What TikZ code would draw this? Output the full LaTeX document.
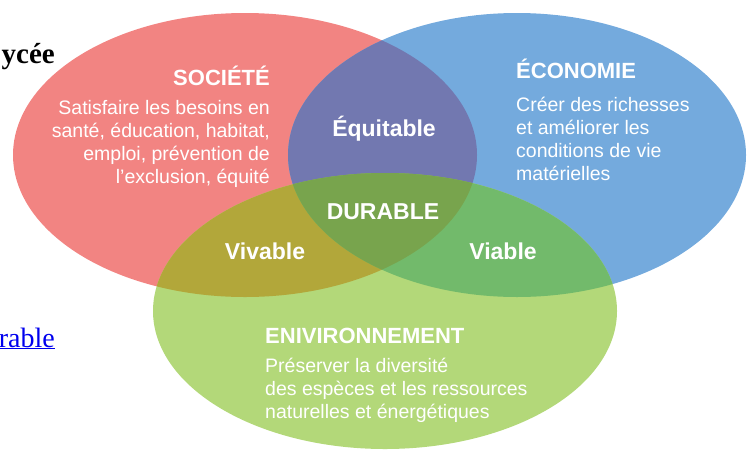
\documentclass[tikz,border=0pt]{standalone}
\usepackage{fontspec}
\setmainfont{Liberation Sans}
\newfontfamily\webserif{Liberation Serif}
\usetikzlibrary{positioning}
\definecolor{socred}{HTML}{F28482}
\definecolor{ecoblue}{HTML}{74AADD}
\definecolor{envgreen}{HTML}{B3D879}
\definecolor{socecocol}{HTML}{7278B0}
\definecolor{socenvcol}{HTML}{B2A73A}
\definecolor{ecoenvcol}{HTML}{72BA6B}
\definecolor{allcol}{HTML}{78A44D}
\definecolor{linkblue}{HTML}{0000EE}
% the three circles of the diagram
\newcommand{\socpath}{(245,155) ellipse [x radius=232pt, y radius=142pt]}
\newcommand{\ecopath}{(517,155) ellipse [x radius=229pt, y radius=142pt]}
\newcommand{\envpath}{(385,311) ellipse [x radius=232pt, y radius=138pt]}

\begin{document}
\begin{tikzpicture}[x=1pt,y=-1pt,
  title/.style={text=white,font=\fontsize{22}{26}\selectfont\bfseries,inner sep=0pt},
  body/.style={text=white,font=\fontsize{19.5}{23}\selectfont,inner sep=0pt},
  zone/.style={text=white,font=\fontsize{23}{27}\selectfont\bfseries,inner sep=0pt,anchor=base},
  webtext/.style={font=\webserif\fontsize{28}{30}\selectfont,inner sep=0pt,anchor=base east}
]
\useasboundingbox (0,0) rectangle (751,450);
\clip (0,0) rectangle (751,450);

% circles
\fill[socred] \socpath;
\fill[ecoblue] \ecopath;
\fill[envgreen] \envpath;

% overlaps
\begin{scope}
  \clip \socpath;
  \fill[socecocol] \ecopath;
\end{scope}
\begin{scope}
  \clip \socpath;
  \fill[socenvcol] \envpath;
\end{scope}
\begin{scope}
  \clip \ecopath;
  \fill[ecoenvcol] \envpath;
\end{scope}
\begin{scope}
  \clip \socpath;
  \clip \ecopath;
  \fill[allcol] \envpath;
\end{scope}

% Société (base = last line)
\node[title,anchor=base east] (soctitle) at (270,85) {SOCIÉTÉ};
\node[body,anchor=base east,align=right] (socbody) at (270,183) {Satisfaire les besoins en\\santé, éducation, habitat,\\emploi, prévention de\\l’exclusion, équité};

% Économie
\node[title,anchor=base west] (ecotitle) at (516,78) {ÉCONOMIE};
\node[body,anchor=base west,align=left] (ecobody) at (516,180) {Créer des richesses\\et améliorer les\\conditions de vie\\matérielles};

% Environnement
\node[title,anchor=base west] (envtitle) at (265,343) {ENIVIRONNEMENT};
\node[body,anchor=base west,align=left] (envbody) at (265,418) {Préserver la diversité\\des espèces et les ressources\\naturelles et énergétiques};

% overlaps labels
\node[zone] (equitable) at (384,136) {Équitable};
\node[zone] (durable) at (383,219) {DURABLE};
\node[zone] (vivable) at (265,259) {Vivable};
\node[zone] (viable) at (503,259) {Viable};

% page text cut at the left
\node[webtext,font=\webserif\bfseries\fontsize{29}{30}\selectfont] (lycee) at (55,63) {ycée};
\node[webtext,text=linkblue] (lien) at (55,347) {\underline{rable}};
\end{tikzpicture}
\end{document}
